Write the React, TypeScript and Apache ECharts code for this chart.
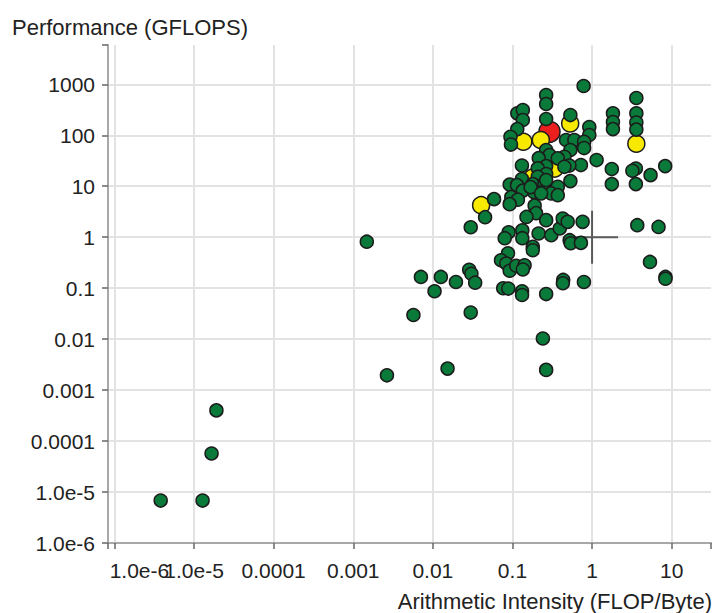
import React, { useEffect, useRef } from "react";
import * as echarts from "echarts";

// Decade ticks and their labels
const decadeExponents = [-6, -5, -4, -3, -2, -1, 0, 1, 2, 3];
const decadeLabels = ["1.0e-6", "1.0e-5", "0.0001", "0.001", "0.01", "0.1", "1", "10", "100", "1000"];

const xAxisTitle = "Arithmetic Intensity (FLOP/Byte)";
const yAxisTitle = "Performance (GFLOPS)";

// [arithmetic intensity, performance]
const greenPoints: [number, number][] = [
  [0.783, 926], [0.265, 616], [0.265, 410], [0.115, 269], [0.135, 313], [0.135, 199],
  [0.115, 132], [0.0944, 93.5], [0.0958, 65.7], [0.265, 208], [0.534, 249], [0.471, 80.5],
  [0.599, 80.5], [0.923, 145], [0.923, 101], [0.794, 74.5], [0.794, 56.1], [0.534, 51.2],
  [0.265, 51.2], [0.292, 40.8], [0.449, 37.8], [0.371, 35.2], [0.214, 35.6], [3.6, 538],
  [3.6, 269], [3.6, 178], [3.6, 129], [1.83, 269], [1.83, 182], [1.83, 132], [1.14, 32.6],
  [0.724, 26.0], [0.519, 25.4], [0.449, 24.0], [0.265, 24.8], [0.208, 22.4], [0.1315, 25.4],
  [0.265, 17.3], [0.208, 15.3], [0.534, 12.6], [0.371, 9.73], [0.1315, 13.8], [0.0923, 10.75],
  [0.114, 10.5], [0.18, 11.0], [0.253, 11.5], [0.253, 8.01], [0.186, 7.66], [0.135, 8.2],
  [0.169, 9.6], [0.0966, 6.11], [0.117, 5.45], [0.0923, 4.45], [0.306, 7.22], [0.371, 6.68],
  [0.19, 4.16], [0.198, 2.96], [0.0587, 5.58], [1.77, 21.7], [1.77, 11.0], [3.55, 22.2],
  [3.21, 20.1], [3.55, 11.0], [5.43, 16.5], [8.29, 24.8], [0.229, 7.22], [0.265, 13.2],
  [0.0453, 2.47], [0.0299, 1.57], [0.0896, 1.25], [0.0799, 0.956], [0.15, 2.5], [0.265, 2.16],
  [0.133, 1.37], [0.133, 0.956], [0.18, 0.645], [0.213, 1.18], [0.307, 1.095], [0.393, 1.48],
  [0.428, 2.33], [0.494, 2.0], [0.761, 2.0], [0.523, 0.873], [0.539, 0.762], [0.724, 0.773],
  [3.7, 1.72], [6.84, 1.59], [5.34, 0.327], [8.36, 0.166], [8.36, 0.153], [0.0879, 0.485],
  [0.0718, 0.353], [0.0837, 0.304], [0.0923, 0.22], [0.1115, 0.275], [0.142, 0.282],
  [0.135, 0.232], [0.18, 0.555], [0.00708, 0.166], [0.0126, 0.166], [0.0195, 0.132],
  [0.0286, 0.23], [0.0305, 0.192], [0.034, 0.128], [0.0105, 0.0869], [0.0765, 0.0996],
  [0.0886, 0.0982], [0.132, 0.0869], [0.132, 0.0735], [0.265, 0.0766], [0.434, 0.145],
  [0.43, 0.125], [0.79, 0.132], [0.0057, 0.0297], [0.0299, 0.0332], [0.241, 0.0103],
  [0.265, 0.00249], [0.0153, 0.00264], [0.00265, 0.00195], [0.00148, 0.816],
  [3.81e-6, 6.8e-6], [1.28e-5, 6.8e-6], [1.66e-5, 5.7e-5], [1.91e-5, 4.0e-4],
];

const yellowPoints: [number, number][] = [
  [0.531, 170], [0.227, 80.5], [0.137, 74.5], [3.6, 68.1], [0.34, 22.2], [0.18, 14.8], [0.0404, 4.25],
];

const redPoints: [number, number][] = [[0.292, 117]];

const crossPoints: [number, number][] = [[1, 1]];

const xMin = 8.3e-7;
const xMax = 31.2;
const yMin = 1e-6;
const yMax = 5900;

function decadeLabel(v: number): string {
  const l = Math.log10(v);
  const e = Math.round(l);
  if (Math.abs(l - e) > 1e-3) return "";
  const i = decadeExponents.indexOf(e);
  return i >= 0 ? decadeLabels[i] : "";
}

function xDecadeLabel(v: number): string {
  const s = decadeLabel(v);
  if (!s) return "";
  // the first label is pushed inside the axis start
  if (s === decadeLabels[0]) return "{first|" + s + "}";
  return s;
}

const FONT = "Liberation Sans";

export default function App() {
  const ref = useRef<HTMLDivElement>(null);
  useEffect(() => {
    if (!ref.current) return;
    const chart = echarts.init(ref.current, undefined, { renderer: "svg" });
    const pointStyle = { borderColor: "#1c1c1c", borderWidth: 1.5, opacity: 1 };
    chart.setOption({
      animation: false,
      backgroundColor: "#ffffff",
      grid: { left: 108, right: 0, top: 45, bottom: 70, containLabel: false },
      xAxis: {
        type: "log",
        logBase: 10,
        min: xMin,
        max: xMax,
        splitNumber: 8,
        axisLine: { show: true, lineStyle: { color: "#a8a8a8", width: 2 } },
        axisTick: { show: true, length: 6, lineStyle: { color: "#666", width: 1.5 } },
        axisLabel: {
          formatter: xDecadeLabel,
          color: "#222",
          fontFamily: FONT,
          fontSize: 21,
          margin: 17,
          rich: {
            first: { color: "#222", fontFamily: FONT, fontSize: 21, padding: [0, 0, 0, 50] },
          },
        },
        splitLine: { show: true, showMinLine: false, showMaxLine: false, lineStyle: { color: "#e3e3e3", width: 2 } },
      },
      yAxis: {
        type: "log",
        logBase: 10,
        min: yMin,
        max: yMax,
        splitNumber: 10,
        axisLine: { show: true, lineStyle: { color: "#a8a8a8", width: 2 } },
        axisTick: { show: true, length: 6, lineStyle: { color: "#666", width: 1.5 } },
        axisLabel: {
          formatter: decadeLabel,
          color: "#222",
          fontFamily: FONT,
          fontSize: 21,
          margin: 13,
        },
        splitLine: { show: true, showMinLine: false, showMaxLine: false, lineStyle: { color: "#e3e3e3", width: 2 } },
      },
      graphic: [
        {
          type: "text",
          left: 12,
          top: 16,
          style: { text: yAxisTitle, fill: "#222", font: `22px "${FONT}"` },
        },
        {
          type: "text",
          right: 2,
          top: 590,
          style: { text: xAxisTitle, fill: "#222", font: `22px "${FONT}"` },
        },
      ],
      series: [
        {
          type: "scatter",
          data: crossPoints,
          symbol: "path://M0,26.5 L52,26.5 M26,0 L26,53",
          symbolSize: [52, 53],
          silent: true,
          itemStyle: { color: "rgba(0,0,0,0)", borderColor: "#5a5a5a", borderWidth: 2, opacity: 1 },
          z: 1,
        },
        {
          type: "scatter",
          data: redPoints,
          symbolSize: 21,
          silent: true,
          itemStyle: { color: "#ec1f1f", ...pointStyle },
          z: 2,
        },
        {
          type: "scatter",
          data: yellowPoints,
          symbolSize: 17,
          silent: true,
          itemStyle: { color: "#f7ea00", ...pointStyle },
          z: 3,
        },
        {
          type: "scatter",
          data: greenPoints,
          symbolSize: 13,
          silent: true,
          itemStyle: { color: "#0a7a3a", ...pointStyle },
          z: 4,
        },
      ],
    });
    return () => chart.dispose();
  }, []);
  return (
    <div
      ref={ref}
      style={{ position: "fixed", left: 0, top: 0, width: 714, height: 613, background: "#fff" }}
    />
  );
}
